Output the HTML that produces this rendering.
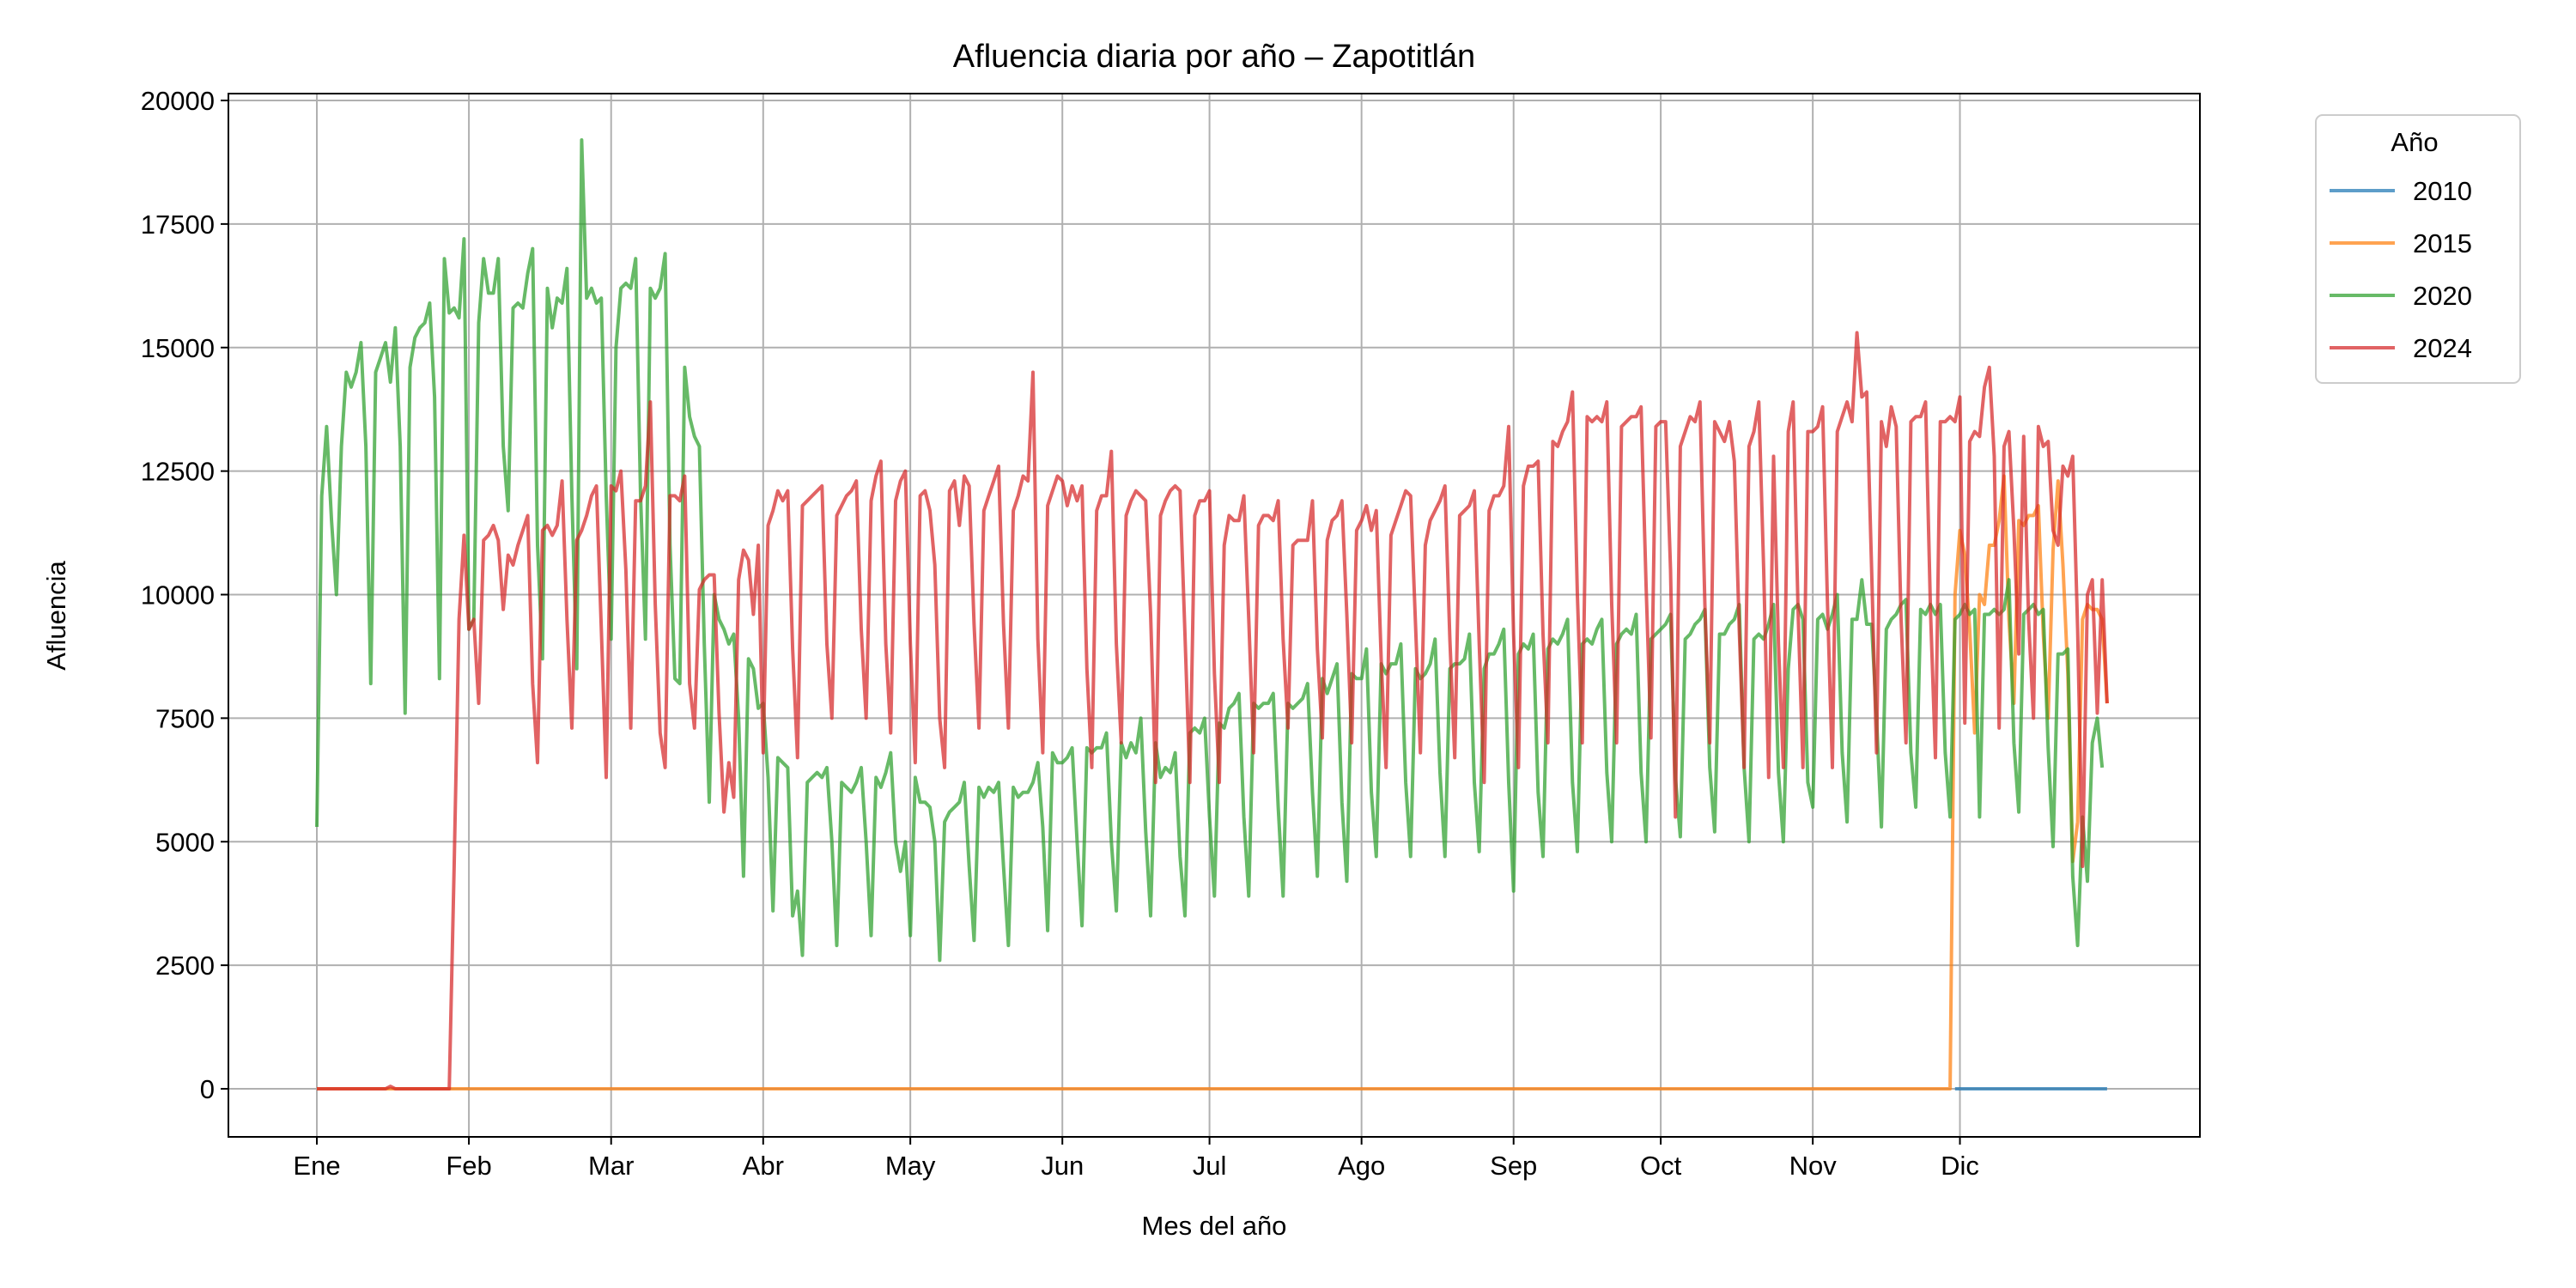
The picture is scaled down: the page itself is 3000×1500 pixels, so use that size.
<!DOCTYPE html>
<html><head><meta charset="utf-8"><style>
html,body{margin:0;padding:0;background:#fff;}
svg{display:block;font-family:"Liberation Sans","DejaVu Sans",sans-serif;}
</style></head><body>
<svg id="chart" width="3000" height="1500" viewBox="0 0 3000 1500" xmlns="http://www.w3.org/2000/svg">
<rect x="0" y="0" width="3000" height="1500" fill="#fff"/>
<text x="1414" y="78" font-size="38" text-anchor="middle" fill="#000">Afluencia diaria por año – Zapotitlán</text>
<g id="grid"></g><g id="series"></g><g id="axes"></g>
<text x="1414" y="1438" font-size="31" text-anchor="middle">Mes del año</text>
<text x="76" y="717" font-size="31" text-anchor="middle" transform="rotate(-90 76 717)">Afluencia</text>
<g>
<rect x="2697" y="134" width="238" height="312" rx="8" fill="#fff" stroke="#ccc" stroke-width="2"/>
<text x="2812" y="176" font-size="31" text-anchor="middle">Año</text>
<g id="legend-items"></g>
</g>
</svg>
<script>
const monthLabels=["Ene","Feb","Mar","Abr","May","Jun","Jul","Ago","Sep","Oct","Nov","Dic"];
const monthStartDays=[0,31,60,91,121,152,182,213,244,274,305,335];
const yTicks=[0,2500,5000,7500,10000,12500,15000,17500,20000];
const years=["2010","2015","2020","2024"];
const colors=["#1f77b4","#ff7f0e","#2ca02c","#d62728"];
const s2010Start=334;
const s2010=[0,0,0,0,0,0,0,0,0,0,0,0,0,0,0,0,0,0,0,0,0,0,0,0,0,0,0,0,0,0,0,0];
const s2015ZeroDays=334;
const s2015Dec=[10000,11300,10800,9300,7200,10000,9800,11000,11000,11500,12400,9500,7800,11500,11400,11600,11600,11800,9200,7500,10900,12300,10600,8400,4600,5400,9500,9800,9700,9700,9500,7800];
const s2020=[5300,12000,13400,11500,10000,13000,14500,14200,14500,15100,13000,8200,14500,14800,15100,14300,15400,13000,7600,14600,15200,15400,15500,15900,14000,8300,16800,15700,15800,15600,17200,
9300,9500,15500,16800,16100,16100,16800,13000,11700,15800,15900,15800,16500,17000,11000,8700,16200,15400,16000,15900,16600,12000,8500,19200,16000,16200,15900,16000,12000,
9100,15000,16200,16300,16200,16800,12000,9100,16200,16000,16200,16900,11000,8300,8200,14600,13600,13200,13000,9000,5800,10000,9500,9300,9000,9200,7500,4300,8700,8500,7700,
7800,6300,3600,6700,6600,6500,3500,4000,2700,6200,6300,6400,6300,6500,5000,2900,6200,6100,6000,6200,6500,5000,3100,6300,6100,6400,6800,5000,4400,5000,
3100,6300,5800,5800,5700,5000,2600,5400,5600,5700,5800,6200,4500,3000,6100,5900,6100,6000,6200,4500,2900,6100,5900,6000,6000,6200,6600,5300,3200,6800,6600,
6600,6700,6900,5000,3300,6900,6800,6900,6900,7200,5000,3600,7000,6700,7000,6800,7500,5200,3500,7000,6300,6500,6400,6800,4700,3500,7200,7300,7200,7500,
5500,3900,7400,7300,7700,7800,8000,5500,3900,7800,7700,7800,7800,8000,5700,3900,7800,7700,7800,7900,8200,6000,4300,8300,8000,8300,8600,5800,4200,8400,8300,
8300,8900,6000,4700,8600,8400,8600,8600,9000,6200,4700,8500,8300,8400,8600,9100,6400,4700,8500,8600,8600,8700,9200,6200,4800,8500,8800,8800,9000,9300,6200,
4000,8800,9000,8900,9200,6000,4700,8900,9100,9000,9200,9500,6200,4800,9000,9100,9000,9300,9500,6400,5000,9000,9200,9300,9200,9600,6400,5000,9100,9200,
9300,9400,9600,6300,5100,9100,9200,9400,9500,9700,6500,5200,9200,9200,9400,9500,9800,6500,5000,9100,9200,9100,9400,9800,6400,5000,8500,9700,9800,9500,
6200,5700,9500,9600,9300,9600,10000,6800,5400,9500,9500,10300,9400,9400,7500,5300,9300,9500,9600,9800,9900,6800,5700,9700,9600,9800,9600,9800,6800,5500,
9500,9600,9800,9600,9700,5500,9600,9600,9700,9600,9700,10300,7000,5600,9600,9700,9800,9600,9700,6900,4900,8800,8800,8900,4300,2900,5500,4200,7000,7500,6500];
const s2024=[0,0,0,0,0,0,0,0,0,0,0,0,0,0,0,50,0,0,0,0,0,0,0,0,0,0,0,0,4500,9500,11200,
9300,9500,7800,11100,11200,11400,11100,9700,10800,10600,11000,11300,11600,8200,6600,11300,11400,11200,11400,12300,9500,7300,11100,11300,11600,12000,12200,9300,6300,
12200,12100,12500,10500,7300,11900,11900,12200,13900,9800,7200,6500,12000,12000,11900,12400,8200,7300,10100,10300,10400,10400,7600,5600,6600,5900,10300,10900,10700,9600,11000,
6800,11400,11700,12100,11900,12100,8900,6700,11800,11900,12000,12100,12200,9000,7500,11600,11800,12000,12100,12300,9300,7500,11900,12400,12700,9000,7200,11900,12300,12500,
9000,6600,12000,12100,11700,10600,7500,6500,12100,12300,11400,12400,12200,9400,7300,11700,12000,12300,12600,9400,7300,11700,12000,12400,12300,14500,9100,6800,11800,12100,12400,
12300,11800,12200,11900,12200,8500,6500,11700,12000,12000,12900,9000,7000,11600,11900,12100,12000,11900,9600,6200,11600,11900,12100,12200,12100,9200,6200,11600,11900,11900,
12100,8400,6200,11000,11600,11500,11500,12000,9500,6800,11400,11600,11600,11500,11900,9100,7300,11000,11100,11100,11100,11900,8900,7100,11100,11500,11600,11900,9600,7000,11300,
11500,11800,11300,11700,8700,6500,11200,11500,11800,12100,12000,9400,6800,11000,11500,11700,11900,12200,9100,6700,11600,11700,11800,12100,9000,6200,11700,12000,12000,12200,13400,
9200,6500,12200,12600,12600,12700,9200,7000,13100,13000,13300,13500,14100,10000,7000,13600,13500,13600,13500,13900,9800,7000,13400,13500,13600,13600,13800,10200,7100,13400,
13500,13500,10500,5500,13000,13300,13600,13500,13900,9800,7000,13500,13300,13100,13500,12700,9300,6500,13000,13300,13900,10500,6300,12800,9000,6500,13300,13900,9700,6500,13300,
13300,13400,13800,9800,6500,13300,13600,13900,13500,15300,14000,14100,10500,6800,13500,13000,13800,13400,9500,7000,13500,13600,13600,13900,9700,6700,13500,13500,13600,13500,
14000,7400,13100,13300,13200,14200,14600,12800,7300,13000,13300,11300,8800,13200,9500,7500,13400,13000,13100,11300,11000,12600,12400,12800,9300,4500,10000,10300,7600,10300,7800];

const NS="http://www.w3.org/2000/svg";
const L=266,R=2562,T=109,B=1324;
const X0=369,DX=5.712;
const xS=d=>X0+d*DX;
const yS=v=>1268-v*(1268-117)/20000;
function mk(tag,attrs,parent){const e=document.createElementNS(NS,tag);for(const k in attrs)e.setAttribute(k,attrs[k]);parent.appendChild(e);return e;}
const grid=document.getElementById('grid'),axes=document.getElementById('axes'),ser=document.getElementById('series');
monthStartDays.forEach((d,i)=>{
  const g=mk('line',{x1:xS(d),x2:xS(d),y1:T,y2:B,stroke:'#b0b0b0','stroke-width':2},grid);
  
  
  mk('line',{x1:xS(d),x2:xS(d),y1:B,y2:B+9,stroke:'#000','stroke-width':2},axes);
  const t=mk('text',{x:xS(d),y:B+44,'font-size':31,'text-anchor':'middle'},axes);
  t.textContent=monthLabels[i];
  
  
});
yTicks.forEach(v=>{
  const g=mk('line',{x1:L,x2:R,y1:yS(v),y2:yS(v),stroke:'#b0b0b0','stroke-width':2},grid);
  
  
  mk('line',{x1:L-9,x2:L,y1:yS(v),y2:yS(v),stroke:'#000','stroke-width':2},axes);
  const t=mk('text',{x:L-16,y:yS(v)+11,'font-size':31,'text-anchor':'end'},axes);
  t.textContent=String(v);
  
  
});
const frame=mk('rect',{x:L,y:T,width:R-L,height:B-T,fill:'none',stroke:'#000','stroke-width':2},axes);


function pts(start,arr){return arr.map((v,i)=>xS(start+i).toFixed(1)+','+yS(v).toFixed(1)).join(' ');}
const s2015=[];for(let i=0;i<s2015ZeroDays;i++)s2015.push(0);s2015.push(...s2015Dec);
const seriesData=[[s2010Start,s2010],[0,s2015],[0,s2020],[0,s2024]];
seriesData.forEach((sd,i)=>{
  const p=mk('polyline',{points:pts(sd[0],sd[1]),fill:'none',stroke:colors[i],'stroke-width':4,'stroke-opacity':0.72,'stroke-linejoin':'round'},ser);
  
  
});
const li=document.getElementById('legend-items');
years.forEach((y,i)=>{
  const yy=222+i*61;
  mk('line',{x1:2713,x2:2789,y1:yy,y2:yy,stroke:colors[i],'stroke-width':4,'stroke-opacity':0.72},li);
  const t=mk('text',{x:2810,y:yy+11,'font-size':31},li);
  t.textContent=y;
  
  
});
</script>
</body></html>
